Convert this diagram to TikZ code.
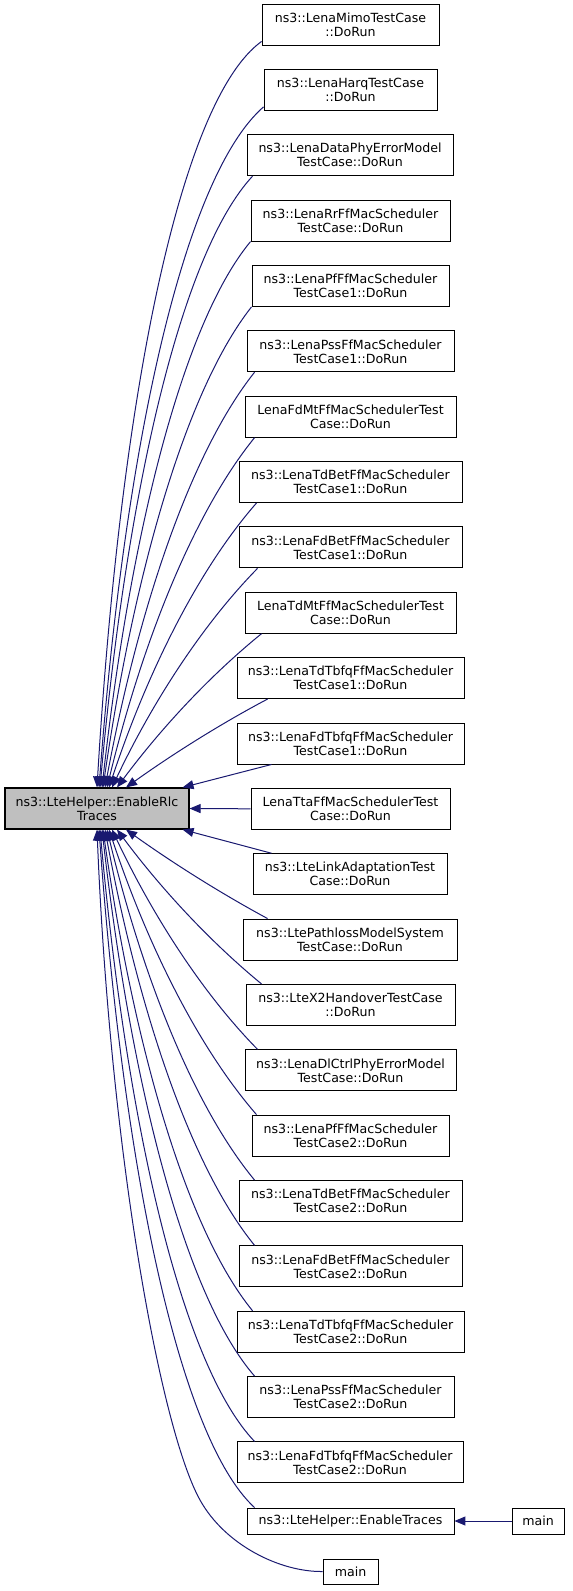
\documentclass[tikz,border=0pt]{standalone}
\usepackage{fontspec}
\setmainfont{DejaVu Sans}
\usetikzlibrary{arrows.meta}
\definecolor{edgeblue}{RGB}{25,25,112}
\definecolor{maingray}{RGB}{191,191,191}
\begin{document}
\begin{tikzpicture}[x=1pt,y=-1pt,
  box/.style={draw=black,line width=0.9pt,fill=white,inner sep=0pt,align=center,
    minimum height=41pt,font=\fontsize{12.6}{14}\selectfont},
  onebox/.style={box,minimum height=26pt},
  mainbox/.style={box,fill=maingray,line width=1.1pt},
  edge/.style={draw=edgeblue,line width=1pt,-{Triangle[length=11pt,width=9pt]}}]
\useasboundingbox (0,0) rectangle (573,1591);
% main node
\node[mainbox,minimum width=184pt] (main) at (97,808.5) {ns3::LteHelper::EnableRlc\\Traces};
% callers
\node[box,minimum width=177pt] (n1) at (350.5,24.5) {ns3::LenaMimoTestCase\\::DoRun};
\node[box,minimum width=173pt] (n2) at (350.5,89.9) {ns3::LenaHarqTestCase\\::DoRun};
\node[box,minimum width=206pt] (n3) at (350,155.2) {ns3::LenaDataPhyErrorModel\\TestCase::DoRun};
\node[box,minimum width=199pt] (n4) at (350.5,220.6) {ns3::LenaRrFfMacScheduler\\TestCase::DoRun};
\node[box,minimum width=197pt] (n5) at (350.5,285.9) {ns3::LenaPfFfMacScheduler\\TestCase1::DoRun};
\node[box,minimum width=207pt] (n6) at (350.5,351.3) {ns3::LenaPssFfMacScheduler\\TestCase1::DoRun};
\node[box,minimum width=211pt] (n7) at (350.5,416.7) {LenaFdMtFfMacSchedulerTest\\Case::DoRun};
\node[box,minimum width=223pt] (n8) at (350.5,482.0) {ns3::LenaTdBetFfMacScheduler\\TestCase1::DoRun};
\node[box,minimum width=223pt] (n9) at (350.5,547.4) {ns3::LenaFdBetFfMacScheduler\\TestCase1::DoRun};
\node[box,minimum width=211pt] (n10) at (350.5,612.7) {LenaTdMtFfMacSchedulerTest\\Case::DoRun};
\node[box,minimum width=227pt] (n11) at (350.5,678.1) {ns3::LenaTdTbfqFfMacScheduler\\TestCase1::DoRun};
\node[box,minimum width=227pt] (n12) at (350.5,743.5) {ns3::LenaFdTbfqFfMacScheduler\\TestCase1::DoRun};
\node[box,minimum width=199pt] (n13) at (350.5,808.8) {LenaTtaFfMacSchedulerTest\\Case::DoRun};
\node[box,minimum width=194pt] (n14) at (350,874.2) {ns3::LteLinkAdaptationTest\\Case::DoRun};
\node[box,minimum width=214pt] (n15) at (350,939.5) {ns3::LtePathlossModelSystem\\TestCase::DoRun};
\node[box,minimum width=209pt] (n16) at (350.5,1004.9) {ns3::LteX2HandoverTestCase\\::DoRun};
\node[box,minimum width=211pt] (n17) at (350.5,1070.3) {ns3::LenaDlCtrlPhyErrorModel\\TestCase::DoRun};
\node[box,minimum width=197pt] (n18) at (350.5,1135.6) {ns3::LenaPfFfMacScheduler\\TestCase2::DoRun};
\node[box,minimum width=223pt] (n19) at (350.5,1201.0) {ns3::LenaTdBetFfMacScheduler\\TestCase2::DoRun};
\node[box,minimum width=223pt] (n20) at (350.5,1266.3) {ns3::LenaFdBetFfMacScheduler\\TestCase2::DoRun};
\node[box,minimum width=227pt] (n21) at (350.5,1331.7) {ns3::LenaTdTbfqFfMacScheduler\\TestCase2::DoRun};
\node[box,minimum width=207pt] (n22) at (350.5,1397.0) {ns3::LenaPssFfMacScheduler\\TestCase2::DoRun};
\node[box,minimum width=226pt] (n23) at (350,1462.4) {ns3::LenaFdTbfqFfMacScheduler\\TestCase2::DoRun};
\node[onebox,minimum width=207pt] (n24) at (350.5,1521) {ns3::LteHelper::EnableTraces};
\node[onebox,minimum width=55pt,minimum height=25pt] (n25) at (350.5,1571.5) {main};
\node[onebox,minimum width=52pt] (n26) at (538,1521) {main};
% upper edges
\draw[edge] ([yshift=4pt]n1.south west) .. controls (179.5,100.8) and (120.1,399.6) .. ([xshift=0pt]main.north);
\draw[edge] ([yshift=4pt]n2.south west) .. controls (184,176.5) and (124.9,444.8) .. ([xshift=2pt]main.north);
\draw[edge] ([xshift=6pt]n3.south west) .. controls (181.1,253.1) and (126.8,490.6) .. ([xshift=3pt]main.north);
\draw[edge] (n4.south west) .. controls (183.2,322.8) and (130.6,531.4) .. ([xshift=5pt]main.north);
\draw[edge] (n5.south west) .. controls (186.8,388.8) and (134.4,570.1) .. ([xshift=6pt]main.north);
\draw[edge] ([xshift=8pt]n6.south west) .. controls (191.1,451.9) and (138.8,606.2) .. ([xshift=8pt]main.north);
\draw[edge] ([xshift=10pt]n7.south west) .. controls (194.2,512.1) and (142.8,640.2) .. ([xshift=10pt]main.north);
\draw[edge] ([xshift=18pt]n8.south west) .. controls (198.2,569.5) and (147.3,672.2) .. ([xshift=12pt]main.north);
\draw[edge] ([xshift=19pt]n9.south west) .. controls (202.2,624.8) and (152.3,702.6) .. ([xshift=15pt]main.north);
\draw[edge] ([xshift=17pt]n10.south west) .. controls (208.6,676.6) and (159.5,730.3) .. ([xshift=20pt]main.north);
\draw[edge] ([xshift=31pt]n11.south west) .. controls (217.9,725.3) and (170,756) .. ([xshift=29pt]main.north);
\draw[edge] ([xshift=35pt]n12.south west) -- ([xshift=-7pt]main.north east);
\draw[edge] (n13.west) -- (main.east);
% lower edges
\draw[edge] ([xshift=19pt]n14.north west) -- ([xshift=-7pt]main.south east);
\draw[edge] ([xshift=25pt]n15.north west) .. controls (217.9,891.7) and (170,861) .. ([xshift=29pt]main.south);
\draw[edge] ([xshift=16pt]n16.north west) .. controls (208.6,940.4) and (159.5,886.7) .. ([xshift=20pt]main.south);
\draw[edge] ([xshift=13pt]n17.north west) .. controls (202.2,993) and (152.3,914.8) .. ([xshift=15pt]main.south);
\draw[edge] ([xshift=5pt]n18.north west) .. controls (198.2,1047.5) and (147.3,944.8) .. ([xshift=12pt]main.south);
\draw[edge] ([xshift=16pt]n19.north west) .. controls (194,1106.8) and (142.8,977.6) .. ([xshift=10pt]main.south);
\draw[edge] ([xshift=16pt]n20.north west) .. controls (191,1167.2) and (138.8,1012.1) .. ([xshift=8pt]main.south);
\draw[edge] ([xshift=16pt]n21.north west) .. controls (186.8,1230.4) and (134.2,1048.3) .. ([xshift=6pt]main.south);
\draw[edge] ([xshift=8pt]n22.north west) .. controls (185.2,1296.4) and (131.2,1086.6) .. ([xshift=5pt]main.south);
\draw[edge] ([xshift=18pt]n23.north west) .. controls (182.1,1365.4) and (127.1,1127.5) .. ([xshift=3pt]main.south);
\draw[edge] ([xshift=8pt]n24.north west) .. controls (179.3,1438.1) and (123.6,1170.5) .. ([xshift=2pt]main.south);
\draw[edge] (n25.west) .. controls (280,1572) and (225,1545) .. (200,1500) .. controls (160,1428) and (110,1150) .. (main.south);
\draw[edge] (n26.west) -- (n24.east);
\end{tikzpicture}
\end{document}
